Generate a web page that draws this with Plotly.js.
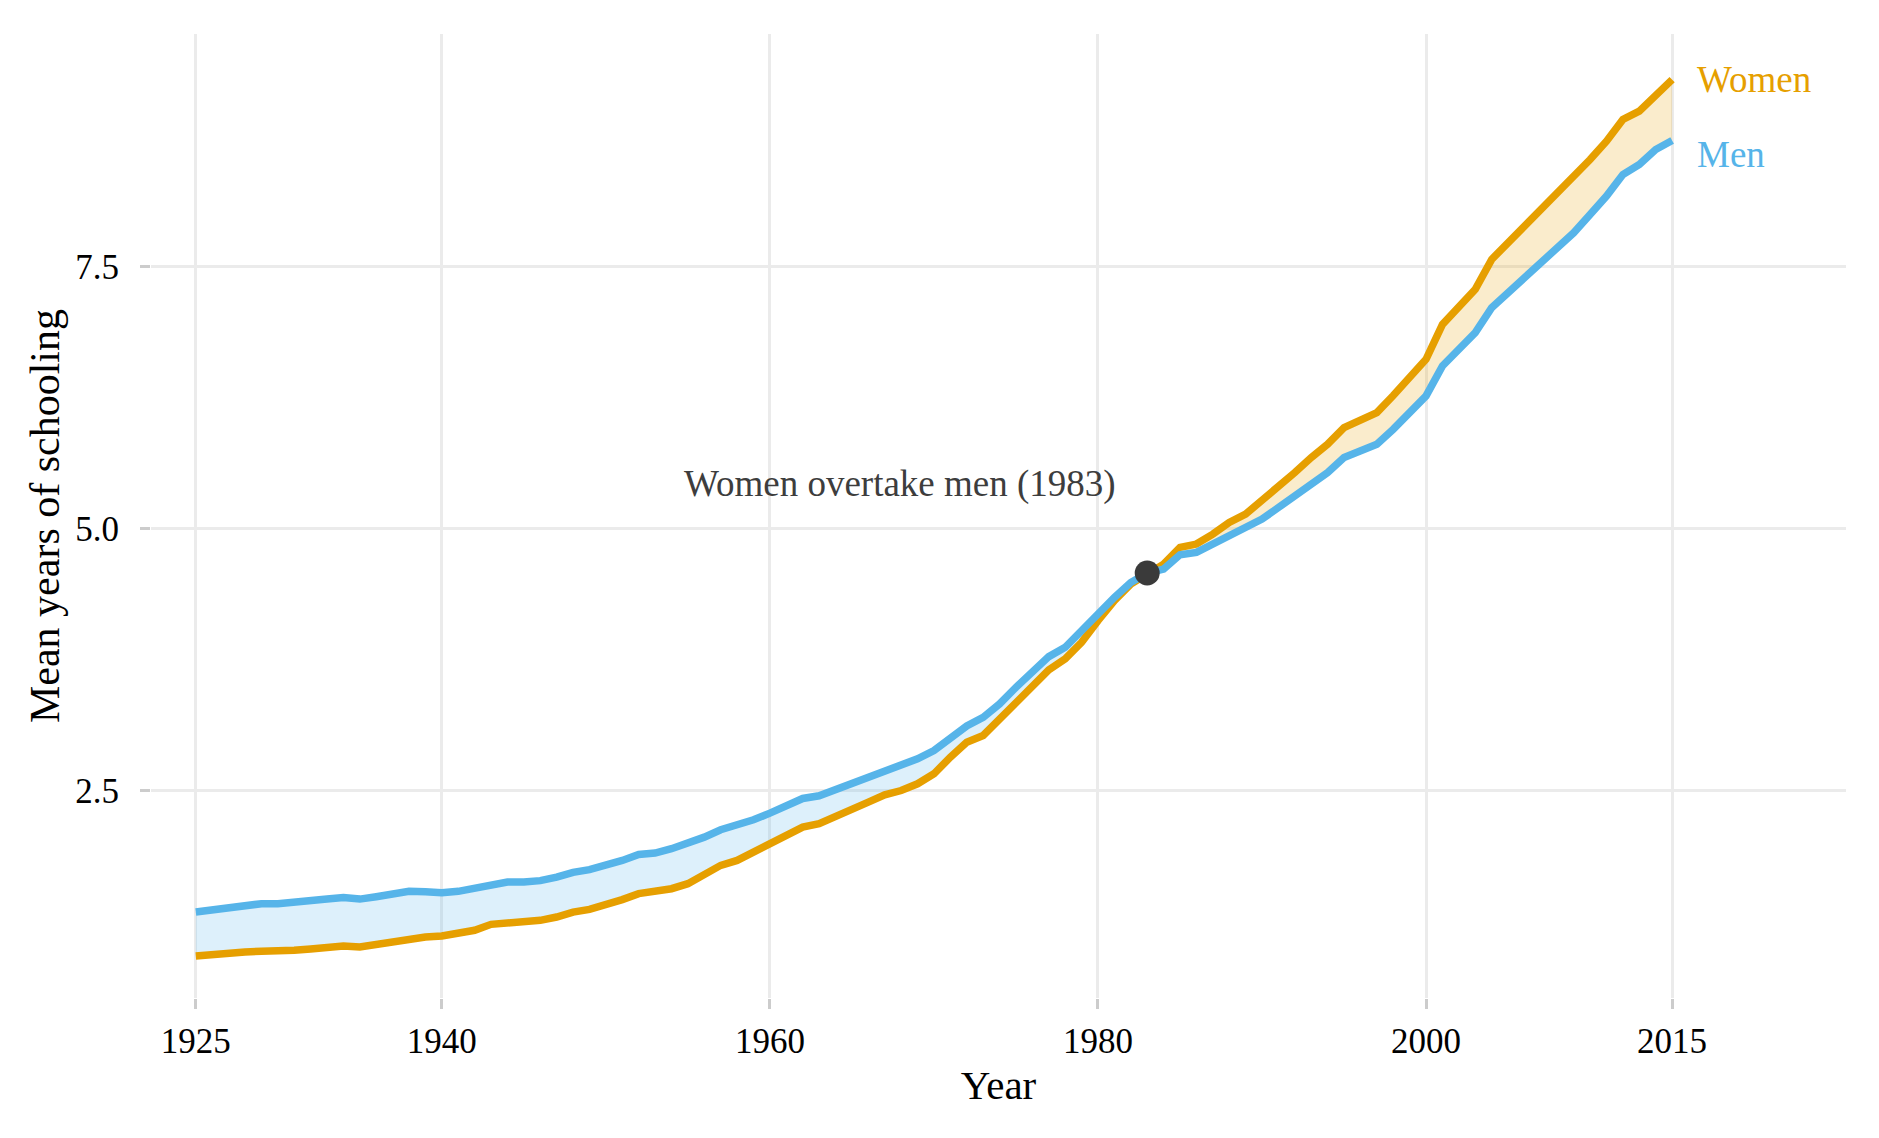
<!DOCTYPE html>
<html>
<head>
<meta charset="utf-8">
<script src="https://cdn.plot.ly/plotly-3.0.1.min.js"></script>
<style>
  html, body { margin: 0; padding: 0; background: #fff; }
  #plot { width: 1879px; height: 1138px; }
</style>
</head>
<body>
<div id="plot"></div>
<script>
// mean years of schooling, by year
var years = [
  1925, 1926, 1927, 1928, 1929, 1930, 1931, 1932, 1933, 1934,
  1935, 1936, 1937, 1938, 1939, 1940, 1941, 1942, 1943, 1944,
  1945, 1946, 1947, 1948, 1949, 1950, 1951, 1952, 1953, 1954,
  1955, 1956, 1957, 1958, 1959, 1960, 1961, 1962, 1963, 1964,
  1965, 1966, 1967, 1968, 1969, 1970, 1971, 1972, 1973, 1974,
  1975, 1976, 1977, 1978, 1979, 1980, 1981, 1982, 1983, 1984,
  1985, 1986, 1987, 1988, 1989, 1990, 1991, 1992, 1993, 1994,
  1995, 1996, 1997, 1998, 1999, 2000, 2001, 2002, 2003, 2004,
  2005, 2006, 2007, 2008, 2009, 2010, 2011, 2012, 2013, 2014,
  2015
];

var women = [
  0.921, 0.937, 0.940, 0.959, 0.966, 0.966, 0.975, 0.988, 1.007, 1.016,
  1.007, 1.030, 1.061, 1.092, 1.102, 1.112, 1.131, 1.166, 1.223, 1.233,
  1.242, 1.261, 1.293, 1.340, 1.366, 1.404, 1.459, 1.516, 1.531, 1.563,
  1.611, 1.690, 1.786, 1.833, 1.912, 1.992, 2.071, 2.151, 2.183, 2.246,
  2.316, 2.389, 2.459, 2.500, 2.564, 2.660, 2.818, 2.961, 3.025, 3.184,
  3.358, 3.501, 3.651, 3.756, 3.914, 4.121, 4.312, 4.470, 4.576, 4.661,
  4.820, 4.852, 4.947, 5.058, 5.138, 5.265, 5.392, 5.535, 5.678, 5.805,
  5.964, 6.044, 6.107, 6.270, 6.440, 6.616, 6.949, 7.108, 7.283, 7.569,
  7.727, 7.887, 8.046, 8.189, 8.347, 8.522, 8.697, 8.904, 8.983, 9.142,
  9.285
];

var men = [
  1.340, 1.363, 1.388, 1.414, 1.420, 1.420, 1.439, 1.445, 1.464, 1.478,
  1.464, 1.487, 1.506, 1.538, 1.535, 1.525, 1.538, 1.569, 1.611, 1.626,
  1.626, 1.640, 1.674, 1.719, 1.745, 1.783, 1.833, 1.890, 1.903, 1.945,
  1.992, 2.055, 2.126, 2.167, 2.221, 2.284, 2.351, 2.424, 2.450, 2.507,
  2.570, 2.627, 2.691, 2.736, 2.803, 2.882, 2.993, 3.117, 3.199, 3.327,
  3.485, 3.628, 3.778, 3.867, 4.026, 4.200, 4.343, 4.486, 4.576, 4.614,
  4.750, 4.772, 4.852, 4.931, 4.995, 5.090, 5.201, 5.313, 5.430, 5.535,
  5.678, 5.742, 5.805, 5.948, 6.110, 6.266, 6.552, 6.711, 6.870, 7.108,
  7.251, 7.410, 7.553, 7.680, 7.823, 7.998, 8.173, 8.379, 8.475, 8.618,
  8.704
];

var crossYear = 1983;
var xTicks = [1925, 1940, 1960, 1980, 2000, 2015];
var yTicks = [2.5, 5.0, 7.5];
var yTickText = ['2.5', '5.0', '7.5'];

var ORANGE = '#E69F00';
var BLUE = '#56B4E9';
var SERIF = '"Liberation Serif", "Times New Roman", serif';

// split at the crossing so the ribbon takes the colour of the leader
var k = years.indexOf(crossYear);
var yrsA = years.slice(0, k + 1), yrsB = years.slice(k);

function band(x, y, fill) {
  var t = {x: x, y: y, mode: 'lines', line: {width: 0}, hoverinfo: 'skip', showlegend: false};
  if (fill) { t.fill = 'tonexty'; t.fillcolor = fill; }
  return t;
}

var data = [
  band(yrsA, women.slice(0, k + 1)),
  band(yrsA, men.slice(0, k + 1), 'rgba(86,180,233,0.2)'),
  band(yrsB, men.slice(k)),
  band(yrsB, women.slice(k), 'rgba(230,159,0,0.2)'),
  {x: years, y: women, mode: 'lines', name: 'Women', line: {color: ORANGE, width: 7.5}},
  {x: years, y: men, mode: 'lines', name: 'Men', line: {color: BLUE, width: 7.5}},
  {x: [crossYear], y: [women[k]], mode: 'markers', marker: {color: '#3a3a3a', size: 25}}
];

var axisBase = {
  showgrid: true,
  gridcolor: '#ebebeb',
  gridwidth: 3,
  zeroline: false,
  showline: false,
  ticks: 'outside',
  ticklen: 10,
  tickwidth: 3,
  tickcolor: '#cccccc',
  tickfont: {family: SERIF, size: 35, color: '#000'}
};

var layout = {
  width: 1879,
  height: 1138,
  margin: {l: 151, r: 33, t: 34, b: 140},
  paper_bgcolor: '#fff',
  plot_bgcolor: '#fff',
  showlegend: false,
  hovermode: false,
  xaxis: Object.assign({}, axisBase, {
    range: [1922.27, 2025.6],
    tickvals: xTicks,
    ticktext: xTicks.map(String),
    ticklabelstandoff: 2,
    title: {text: 'Year', font: {family: SERIF, size: 41, color: '#000'}, standoff: 10}
  }),
  yaxis: Object.assign({}, axisBase, {
    range: [0.52, 9.72],
    tickvals: yTicks,
    ticktext: yTickText,
    ticklabelstandoff: 14,
    title: {text: 'Mean years of schooling', font: {family: SERIF, size: 42, color: '#000'}, standoff: 2}
  }),
  annotations: [
    {x: 1967.9, y: 5.425, text: 'Women overtake men (1983)', showarrow: false,
     xanchor: 'center', yanchor: 'middle', font: {family: SERIF, size: 37, color: '#3d3d3d'}},
    {x: 2016.4, y: women[women.length - 1], text: 'Women', showarrow: false,
     xanchor: 'left', yanchor: 'middle', font: {family: SERIF, size: 37, color: ORANGE}},
    {x: 2016.4, y: 8.57, text: 'Men', showarrow: false,
     xanchor: 'left', yanchor: 'middle', font: {family: SERIF, size: 37, color: BLUE}}
  ]
};

Plotly.newPlot('plot', data, layout, {displayModeBar: false, staticPlot: true});
</script>
</body>
</html>
